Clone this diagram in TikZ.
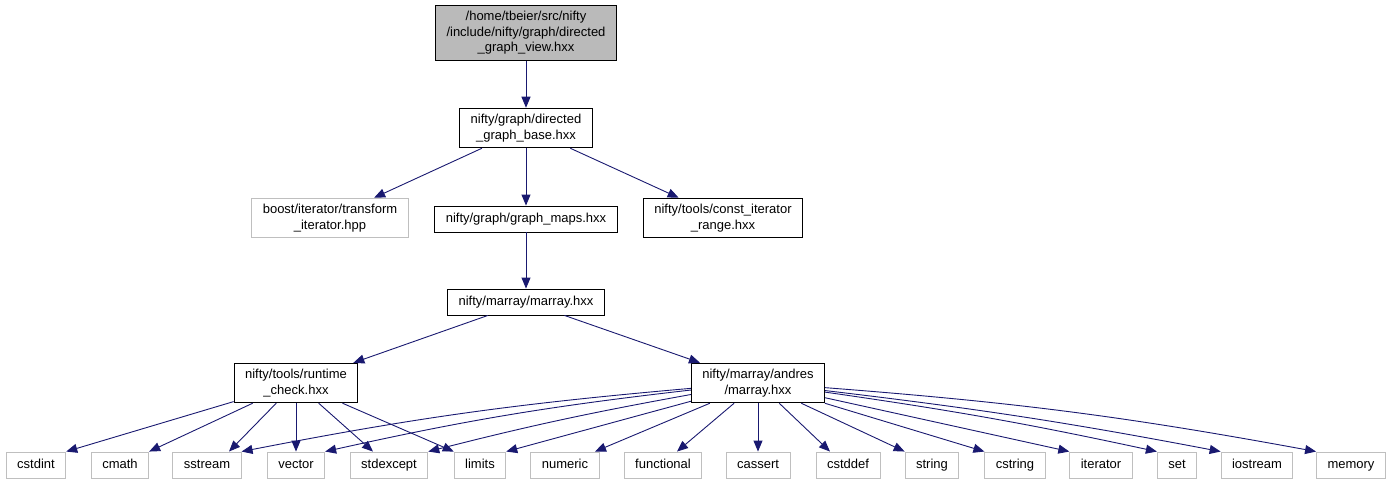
\documentclass[tikz,border=0pt]{standalone}
\usepackage{fontspec}
\setmainfont{Liberation Sans}
\usetikzlibrary{arrows.meta}
\definecolor{edgeblue}{RGB}{25,25,112}

\begin{document}
\begin{tikzpicture}[x=1pt, y=-1pt,
    file/.style={draw=black, fill=white, line width=0.9pt, align=center, font=\fontsize{13}{15.5}\selectfont, inner xsep=11pt, inner ysep=6pt, minimum height=26pt},
    ext/.style={file, draw=black!25},
    hdr/.style={ext, text height=9.5pt, text depth=2.8pt},
    cur/.style={file, fill=black!27},
    dep/.style={-{Triangle[length=11pt,width=9pt]}, draw=edgeblue, line width=0.9pt}
]
\useasboundingbox (0,0) rectangle (1392,484);

\node[cur] (view) at (526,33) {/home/tbeier/src/nifty\\/include/nifty/graph/directed\\\_graph\_view.hxx};
\node[file] (base) at (526,128) {nifty/graph/directed\\\_graph\_base.hxx};
\node[ext] (boostit) at (330,218) {boost/iterator/transform\\\_iterator.hpp};
\node[file] (gmaps) at (526,219) {nifty/graph/graph\_maps.hxx};
\node[file] (constit) at (723,218) {nifty/tools/const\_iterator\\\_range.hxx};
\node[file] (marray) at (526,302) {nifty/marray/marray.hxx};
\node[file] (rtcheck) at (296,383) {nifty/tools/runtime\\\_check.hxx};
\node[file] (andres) at (758,383) {nifty/marray/andres\\/marray.hxx};

% standard headers
\node[hdr] (cstdint) at (36,465) {cstdint};
\node[hdr] (cmath) at (120,465) {cmath};
\node[hdr] (sstream) at (207,465) {sstream};
\node[hdr] (vector) at (296,465) {vector};
\node[hdr] (stdexcept) at (389,465) {stdexcept};
\node[hdr] (limits) at (480,465) {limits};
\node[hdr] (numeric) at (565,465) {numeric};
\node[hdr] (functional) at (663,465) {functional};
\node[hdr] (cassert) at (758,465) {cassert};
\node[hdr] (cstddef) at (848,465) {cstddef};
\node[hdr] (string) at (932,465) {string};
\node[hdr] (cstring) at (1015,465) {cstring};
\node[hdr] (iterator) at (1101,465) {iterator};
\node[hdr] (set) at (1177,465) {set};
\node[hdr] (iostream) at (1257,465) {iostream};
\node[hdr] (memory) at (1351,465) {memory};

\draw[dep] (view) -- (base);
\draw[dep] (base) -- (boostit);
\draw[dep] (base) -- (gmaps);
\draw[dep] (base) -- (constit);
\draw[dep] (gmaps) -- (marray);
\draw[dep] (marray) -- (rtcheck);
\draw[dep] (marray) -- (andres);

\draw[dep] (rtcheck) -- (cstdint.north east);
\draw[dep] (rtcheck) -- (cmath.north east);
\draw[dep] (rtcheck) -- ([xshift=22pt]sstream.north);
\draw[dep] (rtcheck) -- (vector);
\draw[dep] (rtcheck) -- ([xshift=-16pt]stdexcept.north);
\draw[dep] (rtcheck) -- (limits.north west);

\draw[dep] (andres) to[bend right=3] (sstream.north east);
\draw[dep] (andres) to[bend right=3] (vector.north east);
\draw[dep] (andres) to[bend right=2] (stdexcept.north east);
\draw[dep] (andres) -- (limits.north east);
\draw[dep] (andres) -- ([xshift=30pt]numeric.north);
\draw[dep] (andres) -- ([xshift=14pt]functional.north);
\draw[dep] (andres) -- (cassert);
\draw[dep] (andres) -- ([xshift=-18pt]cstddef.north);
\draw[dep] (andres) -- (string.north west);
\draw[dep] (andres) -- (cstring.north west);
\draw[dep] (andres) -- (iterator.north west);
\draw[dep] (andres) to[bend left=2] (set.north west);
\draw[dep] (andres) to[bend left=2] (iostream.north west);
\draw[dep] (andres) to[bend left=3] (memory.north west);
\end{tikzpicture}
\end{document}
